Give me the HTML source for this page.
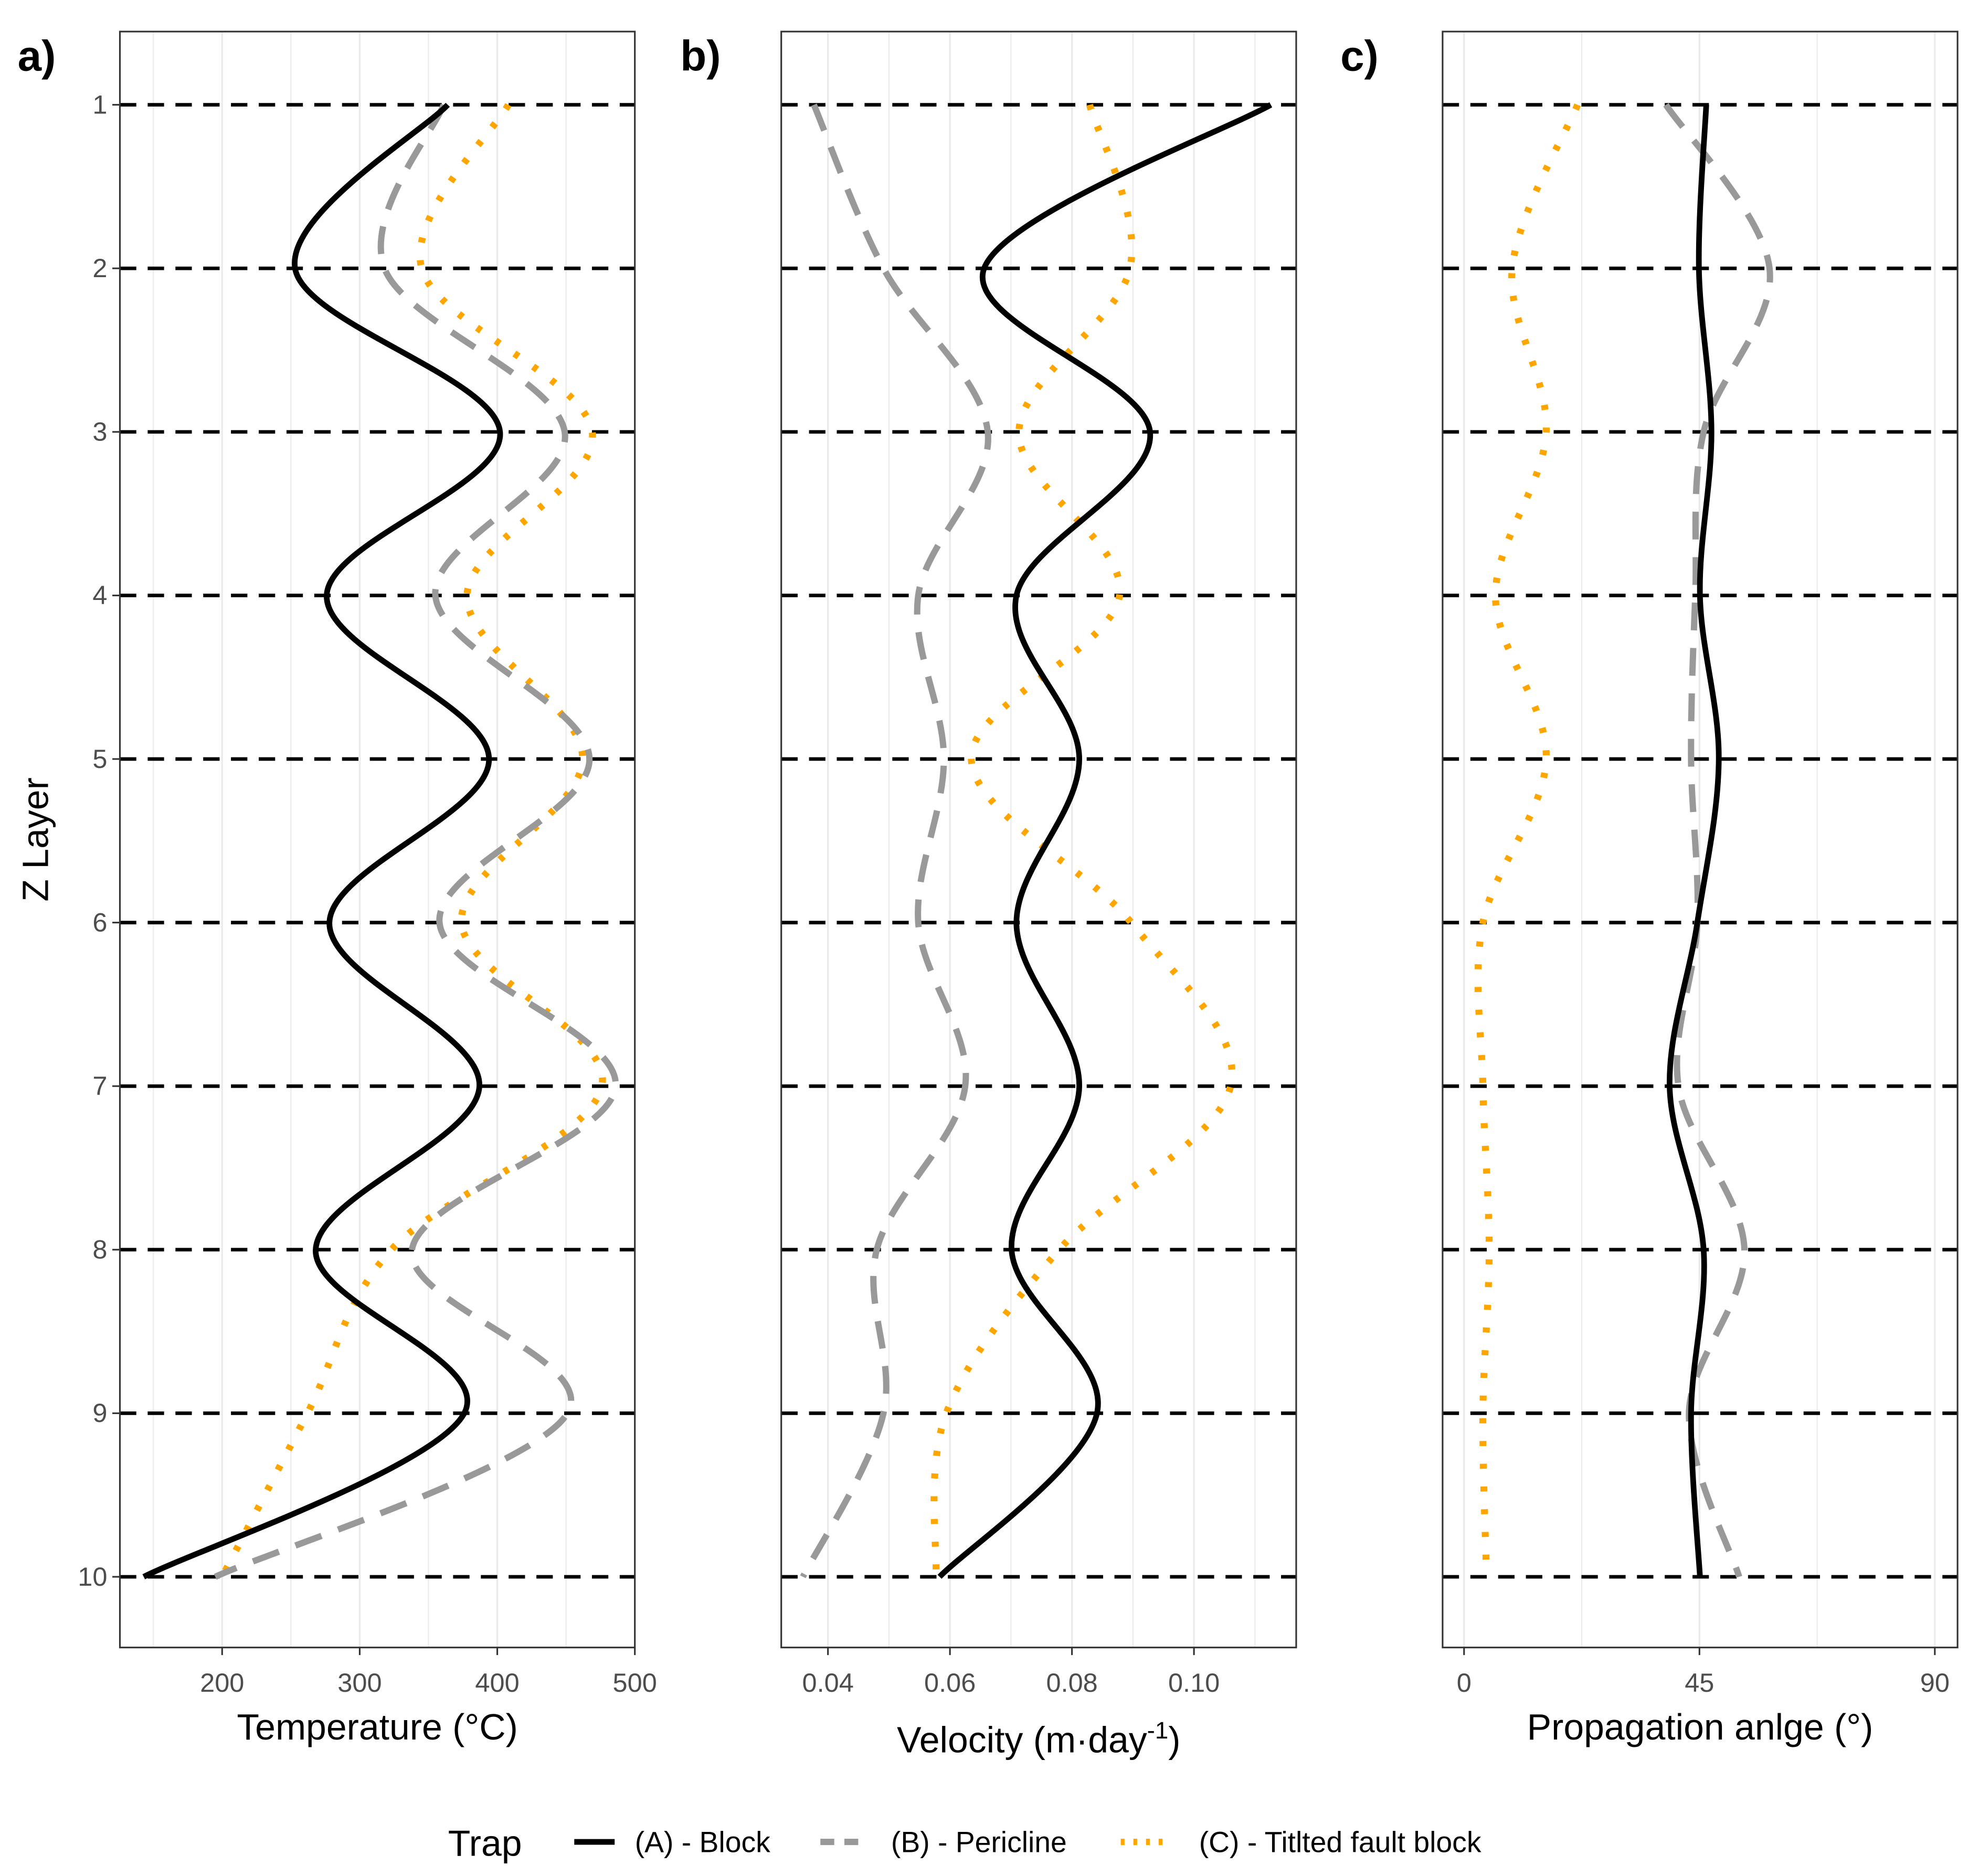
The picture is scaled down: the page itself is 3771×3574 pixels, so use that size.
<!DOCTYPE html>
<html><head><meta charset="utf-8"><style>
html,body{margin:0;padding:0;background:#fff;}
svg{display:block;}
text{font-family:"Liberation Sans",sans-serif;}
</style></head><body>
<svg id="chart" xmlns="http://www.w3.org/2000/svg" width="3771" height="3574" viewBox="0 0 1568 1486" preserveAspectRatio="none">
<rect width="1568" height="1486" fill="#fff"/>
<g id="panels"></g>
<g id="legend">
  <text x="355" y="1470" font-size="29" fill="#000">Trap</text>
  <line x1="455" y1="1459" x2="487" y2="1459" stroke="#000" stroke-width="4.5"/>
  <text x="503" y="1467" font-size="23" fill="#000">(A) - Block</text>
  <line x1="650" y1="1459" x2="684" y2="1459" stroke="#999" stroke-width="5" stroke-dasharray="11,8"/>
  <text x="706" y="1467" font-size="23" fill="#000">(B) - Pericline</text>
  <line x1="888" y1="1459" x2="926" y2="1459" stroke="#FFA500" stroke-width="5" stroke-dasharray="3,7"/>
  <text x="950" y="1467" font-size="23" fill="#000">(C) - Titlted fault block</text>
</g>
</svg>
<script>
const layers = [1,2,3,4,5,6,7,8,9,10];
const tempBlock = [364,253,402,276,394,278,387,268,376,143];
const tempPericline = [361,318,449,355,467,358,486,338,451,195];
const tempTilted = [408,345,469,378,462,374,476,323,262,200];
const velBlock = [0.1126,0.0656,0.0928,0.0709,0.0812,0.0709,0.0812,0.0701,0.0841,0.0583];
const velPericline = [0.0377,0.0491,0.0662,0.0548,0.0590,0.0548,0.0625,0.0480,0.0491,0.0359];
const velTilted = [0.0829,0.0895,0.0713,0.0878,0.0635,0.0897,0.1060,0.0779,0.0594,0.0577];
const angBlock = [46.3,44.9,47.3,45.1,48.7,44.6,39.3,45.8,43.4,45.1];
const angPericline = [38.6,58.4,45.8,44.2,43.4,44.6,41.0,53.6,43.0,52.6];
const angTilted = [21.7,9.2,15.7,6.0,15.7,3.6,3.6,4.8,3.6,4.3];
const tempTicks = [200,300,400,500];
const tempMinor = [150,250,350,450];
const velTicks = [0.04,0.06,0.08,0.10];
const velMinor = [0.05,0.07,0.09,0.11];
const angTicks = [0,45,90];
const angMinor = [22.5,67.5];

const NS = "http://www.w3.org/2000/svg";
const root = document.getElementById('panels');
function mk(tag, attrs, parent){
  const e = document.createElementNS(NS, tag);
  for (const k in attrs) e.setAttribute(k, attrs[k]);
  (parent||root).appendChild(e);
  return e;
}
const top_ = 25, bot = 1305;
function yScale(l){ return 83 + (l-1)*(1249-83)/9; }
function smoothPath(pts){
  let d = "M"+pts[0][0]+","+pts[0][1];
  for (let i=0;i<pts.length-1;i++){
    const p0=pts[Math.max(i-1,0)], p1=pts[i], p2=pts[i+1], p3=pts[Math.min(i+2,pts.length-1)];
    const t=1/6;
    const c1=[p1[0]+(p2[0]-p0[0])*t, p1[1]+(p2[1]-p0[1])*t];
    const c2=[p2[0]-(p3[0]-p1[0])*t, p2[1]-(p3[1]-p1[1])*t];
    d += " C"+c1[0]+","+c1[1]+" "+c2[0]+","+c2[1]+" "+p2[0]+","+p2[1];
  }
  return d;
}
const panels = [
  {key:'temperature', x0:95, x1:503, v0:200, px0:176, v1:500, px1:503, ticks:tempTicks, minor:tempMinor, fmt:v=>String(v), label:'a)', lx:14, title:'Temperature (°C)', ty:1378,
   series:[tempTilted,tempPericline,tempBlock]},
  {key:'velocity', x0:619, x1:1027, v0:0.04, px0:656, v1:0.10, px1:946, ticks:velTicks, minor:velMinor, fmt:v=>v.toFixed(2), label:'b)', lx:539, title:null, ty:1388,
   series:[velTilted,velPericline,velBlock]},
  {key:'angle', x0:1143, x1:1551, v0:0, px0:1160, v1:90, px1:1533, ticks:angTicks, minor:angMinor, fmt:v=>String(v), label:'c)', lx:1062, title:'Propagation anlge (°)', ty:1378,
   series:[angTilted,angPericline,angBlock]}
];
const styles = [
  {name:'tilted', stroke:'#FFA500', w:5.5, dash:'4,14', cap:'butt'},
  {name:'pericline', stroke:'#999999', w:5, dash:'22,14', cap:'butt'},
  {name:'block', stroke:'#000', w:4.5, dash:'', cap:'butt'}
];
panels.forEach(p=>{
  const g = mk('g',{});
  
  
  const xs = v => p.px0 + (v-p.v0)*(p.px1-p.px0)/(p.v1-p.v0);
  p.minor.concat(p.ticks).forEach(v=>{
    const x = xs(v);
    if (x<=p.x0||x>=p.x1) return;
    const ln = mk('line',{x1:x,x2:x,y1:top_,y2:bot,stroke:'#ebebeb','stroke-width':p.ticks.includes(v)?1.4:0.9},g);
    
    
  });
  layers.forEach(l=>{
    const ln = mk('line',{x1:p.x0,x2:p.x1,y1:yScale(l),y2:yScale(l),stroke:'#000','stroke-width':2.8,'stroke-dasharray':'13,9'},g);
    
    
  });
  p.series.forEach((arr,si)=>{
    const st = styles[si];
    const pts = arr.map((v,i)=>[xs(v), yScale(layers[i])]);
    const path = mk('path',{d:smoothPath(pts),fill:'none',stroke:st.stroke,'stroke-width':st.w,'stroke-linecap':st.cap,'stroke-linejoin':'round'},g);
    if (st.dash) path.setAttribute('stroke-dasharray', st.dash);
    
    
  });
  const fr = mk('rect',{x:p.x0,y:top_,width:p.x1-p.x0,height:bot-top_,fill:'none',stroke:'#333','stroke-width':1.3},g);
  
  
  p.ticks.forEach(v=>{
    const x = xs(v);
    const t = mk('line',{x1:x,x2:x,y1:bot,y2:bot+6,stroke:'#333','stroke-width':1.3},g);
    
    
    const tx = mk('text',{x:x,y:bot+35,'font-size':21,fill:'#4d4d4d','text-anchor':'middle'},g);
    tx.textContent = p.fmt(v);
    
    
  });
  const cx = (p.x0+p.x1)/2;
  const tt = mk('text',{x:cx,y:p.ty,'font-size':29,fill:'#000','text-anchor':'middle'},g);
  if (p.title) tt.textContent = p.title;
  else { tt.textContent = 'Velocity (m·day'; const sup = mk('tspan',{dy:-11,'font-size':19},tt); sup.textContent='-1'; const c = mk('tspan',{dy:11},tt); c.textContent=')'; }
  
  
  const pl = mk('text',{x:p.lx,y:56,'font-size':34,'font-weight':'bold',fill:'#000'},g);
  pl.textContent = p.label;
  
  
});
layers.forEach(l=>{
  const t = mk('line',{x1:89,x2:95,y1:yScale(l),y2:yScale(l),stroke:'#333','stroke-width':1.3});
  
  
  const tx = mk('text',{x:85,y:yScale(l)+7,'font-size':21,fill:'#4d4d4d','text-anchor':'end'});
  tx.textContent = String(l);
  
  
});
const yt = mk('text',{x:0,y:0,'font-size':29,fill:'#000','text-anchor':'middle',transform:'translate(38,665) rotate(-90)'});
yt.textContent = 'Z Layer';


</script>
</body></html>
